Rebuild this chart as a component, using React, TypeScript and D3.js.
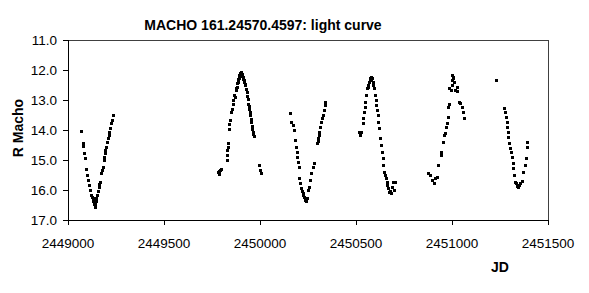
import React from "react";
import * as d3 from "d3";

// Season data: [JD, R Macho magnitude]
const season1: [number, number][] = [
  [2449069, 14.03], [2449077, 14.44], [2449077, 14.53], [2449082, 14.78], [2449087, 14.94],
  [2449094, 15.31], [2449099, 15.5], [2449104, 15.67], [2449108, 15.83], [2449115, 16.0],
  [2449121, 16.17], [2449125, 16.22], [2449129, 16.28], [2449131, 16.35], [2449135, 16.39],
  [2449137, 16.47], [2449139, 16.56], [2449140, 16.42], [2449142, 16.5], [2449144, 16.36],
  [2449146, 16.33], [2449148, 16.25], [2449151, 16.17], [2449156, 16.02], [2449160, 15.89],
  [2449164, 15.8], [2449168, 15.72], [2449173, 15.44], [2449177, 15.33], [2449181, 15.22],
  [2449186, 15.0], [2449189, 14.9], [2449191, 14.78], [2449195, 14.65], [2449198, 14.56],
  [2449203, 14.39], [2449208, 14.28], [2449212, 14.17], [2449216, 14.05], [2449220, 13.94],
  [2449226, 13.78], [2449229, 13.66], [2449233, 13.5],
];

const season2: [number, number][] = [
  [2449783, 15.4], [2449786, 15.47], [2449789, 15.36], [2449792, 15.34], [2449795, 15.3],
  [2449826, 15.01], [2449826, 14.84], [2449830, 14.65], [2449832, 14.57], [2449834, 14.45],
  [2449839, 13.96], [2449840, 13.79], [2449844, 13.68], [2449849, 13.4], [2449853, 13.29],
  [2449857, 13.12], [2449861, 13.01], [2449866, 12.84], [2449870, 12.9], [2449873, 12.68],
  [2449876, 12.6], [2449879, 12.57], [2449882, 12.45], [2449884, 12.4], [2449886, 12.32],
  [2449887, 12.29], [2449889, 12.22], [2449891, 12.18], [2449893, 12.25], [2449896, 12.12],
  [2449898, 12.09], [2449901, 12.07], [2449903, 12.15], [2449906, 12.2], [2449908, 12.12],
  [2449911, 12.3], [2449913, 12.23], [2449916, 12.4], [2449918, 12.34], [2449920, 12.48],
  [2449922, 12.51], [2449926, 12.62], [2449931, 12.73], [2449934, 12.88], [2449936, 12.96],
  [2449939, 13.12], [2449942, 13.2], [2449944, 13.29], [2449946, 13.4], [2449948, 13.51],
  [2449951, 13.62], [2449953, 13.73], [2449957, 13.85], [2449960, 13.96], [2449963, 14.05],
  [2449965, 14.12], [2449970, 14.2], [2449995, 15.18], [2450000, 15.34], [2450004, 15.44],
];

const season3: [number, number][] = [
  [2450158, 13.44], [2450163, 13.72], [2450170, 13.83], [2450175, 14.0], [2450180, 14.33],
  [2450187, 14.56], [2450193, 14.72], [2450193, 14.89], [2450198, 15.06], [2450202, 15.22],
  [2450205, 15.61], [2450210, 15.78], [2450215, 15.94], [2450219, 16.02], [2450222, 16.11],
  [2450225, 16.17], [2450228, 16.22], [2450232, 16.28], [2450236, 16.33], [2450240, 16.36],
  [2450245, 16.28], [2450250, 16.0], [2450257, 15.89], [2450262, 15.67], [2450267, 15.44],
  [2450274, 15.22], [2450280, 15.11], [2450297, 14.44], [2450300, 14.36], [2450302, 14.28],
  [2450306, 14.15], [2450309, 14.06], [2450314, 13.89], [2450319, 13.72], [2450323, 13.6],
  [2450327, 13.5], [2450332, 13.33], [2450337, 13.17], [2450340, 13.06],
];

const season4: [number, number][] = [
  [2450514, 14.05], [2450521, 14.17], [2450524, 14.06], [2450535, 13.78], [2450538, 13.61],
  [2450542, 13.39], [2450547, 13.22], [2450547, 13.05], [2450552, 12.83], [2450556, 12.61],
  [2450560, 12.55], [2450564, 12.5], [2450569, 12.39], [2450571, 12.32], [2450573, 12.28],
  [2450576, 12.25], [2450578, 12.22], [2450580, 12.3], [2450583, 12.27], [2450587, 12.39],
  [2450590, 12.5], [2450594, 12.61], [2450599, 12.83], [2450602, 13.0], [2450604, 13.17],
  [2450608, 13.33], [2450612, 13.5], [2450616, 13.72], [2450621, 13.94], [2450625, 14.28],
  [2450629, 14.5], [2450634, 14.72], [2450639, 14.94], [2450643, 15.17], [2450648, 15.39],
  [2450652, 15.5], [2450656, 15.61], [2450660, 15.72], [2450663, 15.83], [2450668, 15.95],
  [2450673, 16.06], [2450677, 16.02], [2450681, 16.11], [2450686, 15.89], [2450694, 15.72],
  [2450698, 16.0], [2450703, 15.72],
];

const season5: [number, number][] = [
  [2450877, 15.44], [2450885, 15.5], [2450894, 15.67], [2450906, 15.78], [2450911, 15.61],
  [2450920, 15.56], [2450929, 15.17], [2450941, 14.83], [2450941, 14.72], [2450952, 14.39],
  [2450958, 14.17], [2450964, 14.11], [2450969, 13.89], [2450972, 13.78], [2450981, 13.56],
  [2450981, 13.22], [2450986, 13.14], [2450986, 12.61], [2450993, 12.67], [2450998, 12.5],
  [2450998, 12.33], [2451002, 12.17], [2451004, 12.25], [2451007, 12.22], [2451010, 12.39],
  [2451016, 12.67], [2451024, 12.56], [2451028, 12.7], [2451038, 13.06], [2451042, 13.11],
  [2451050, 13.22], [2451055, 13.39], [2451062, 13.59],
];

const single: [number, number][] = [[2451229, 12.33]];

const season6: [number, number][] = [
  [2451271, 13.26], [2451276, 13.39], [2451281, 13.56], [2451285, 13.72], [2451288, 13.89],
  [2451293, 14.06], [2451293, 14.22], [2451298, 14.44], [2451302, 14.6], [2451306, 14.72],
  [2451311, 14.89], [2451316, 15.11], [2451320, 15.28], [2451323, 15.5], [2451328, 15.72],
  [2451333, 15.78], [2451337, 15.83], [2451341, 15.88], [2451345, 15.89], [2451350, 15.84],
  [2451354, 15.78], [2451363, 15.7], [2451372, 15.39], [2451380, 15.17], [2451385, 14.94],
  [2451389, 14.56], [2451392, 14.41],
];

const xTicks = [2449000, 2449500, 2450000, 2450500, 2451000, 2451500];
const yTicks = [11, 12, 13, 14, 15, 16, 17];
const title = "MACHO 161.24570.4597: light curve";
const yLabel = "R Macho";
const xLabel = "JD";

const W = 589;
const H = 293;
const left = 68;
const right = 548;
const top = 40;
const bottom = 220;

export default function App() {
  const x = d3.scaleLinear().domain([2449000, 2451500]).range([left, right]);
  const y = d3.scaleLinear().domain([11, 17]).range([top, bottom]);
  const all = [...season1, ...season2, ...season3, ...season4, ...season5, ...single, ...season6];
  const font = "Arial, 'Liberation Sans', sans-serif";
  return (
    <svg
      width={W}
      height={H}
      style={{ position: "absolute", left: 0, top: 0, background: "#fff" }}
      fontFamily={font}
    >
      <rect x={0} y={0} width={W} height={H} fill="#fff" />
      <rect
        x={left}
        y={top}
        width={right - left}
        height={bottom - top}
        fill="none"
        stroke="#404040"
        strokeWidth={1}
        shapeRendering="crispEdges"
      />
      <line x1={left} x2={right} y1={bottom} y2={bottom} stroke="#000" shapeRendering="crispEdges" />
      <line x1={left} x2={left} y1={top} y2={bottom} stroke="#000" shapeRendering="crispEdges" />
      {yTicks.map((t) => (
        <g key={"y" + t}>
          <line x1={left - 5} x2={left} y1={y(t)} y2={y(t)} stroke="#000" shapeRendering="crispEdges" />
          <text x={left - 11} y={y(t)} dy="0.36em" textAnchor="end" fontSize={13.5} fill="#000">
            {t.toFixed(1)}
          </text>
        </g>
      ))}
      {xTicks.map((t) => (
        <g key={"x" + t}>
          <line x1={x(t)} x2={x(t)} y1={bottom} y2={bottom + 5} stroke="#000" shapeRendering="crispEdges" />
          <text x={x(t)} y={248} textAnchor="middle" fontSize={13.5} fill="#000">
            {t}
          </text>
        </g>
      ))}
      {all.map((d, i) => (
        <rect
          key={i}
          x={Math.round(x(d[0])) - 1.5}
          y={Math.round(y(d[1])) - 1.5}
          width={3}
          height={3}
          fill="#000"
          shapeRendering="crispEdges"
        />
      ))}
      <text x={263} y={30} textAnchor="middle" fontSize={14} fontWeight="bold" fill="#000">
        {title}
      </text>
      <text
        transform={`translate(23,128) rotate(-90)`}
        textAnchor="middle"
        fontSize={14}
        fontWeight="bold"
        fill="#000"
      >
        {yLabel}
      </text>
      <text x={500} y={272} textAnchor="middle" fontSize={14} fontWeight="bold" fill="#000">
        {xLabel}
      </text>
    </svg>
  );
}
